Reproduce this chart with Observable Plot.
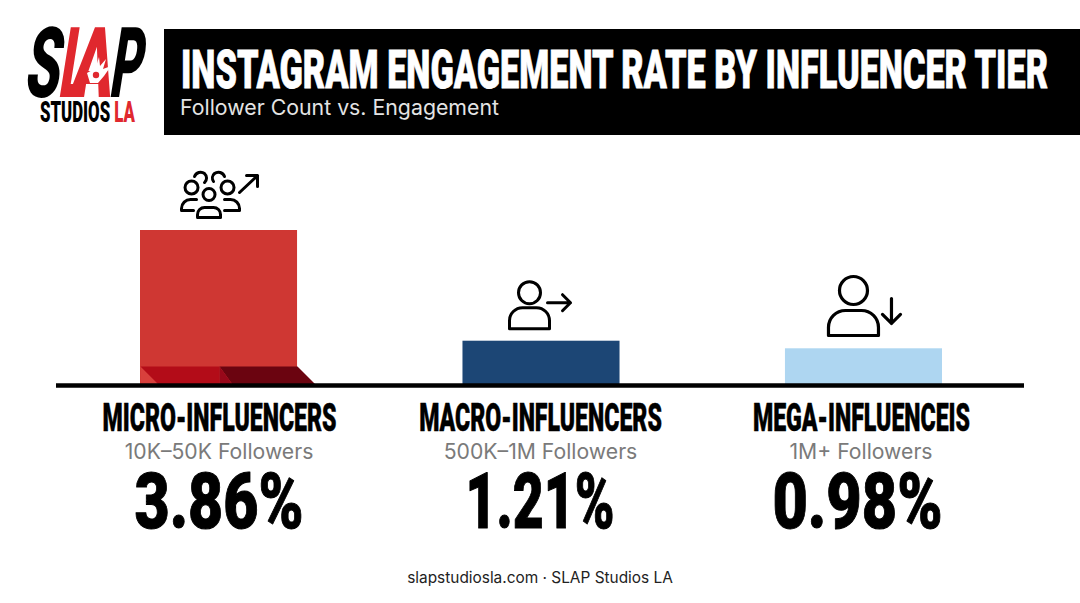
<!DOCTYPE html>
<html><head><meta charset="utf-8">
<style>
html,body{margin:0;padding:0;background:#fff;width:1080px;height:603px;overflow:hidden}
#top{position:absolute;left:0;top:0;width:1080px;height:140px}
#chart{position:absolute;left:0;top:140px}
#caption{position:absolute;left:0;top:568px;width:1080px;text-align:center;font:15.4px/20px Inter,sans-serif;color:#222}
</style>
<script src="https://cdn.jsdelivr.net/npm/d3@7"></script>
<script src="https://cdn.jsdelivr.net/npm/@observablehq/plot@0.6"></script>
</head><body>
<svg id="top" viewBox="0 0 1080 140" xmlns="http://www.w3.org/2000/svg">
  <rect x="164" y="29" width="916" height="106" fill="#000"/>
  <text x="181" y="88" font-family="Roboto" font-weight="900" font-size="53" fill="#fff" stroke="#fff" stroke-width="0.8" textLength="867" lengthAdjust="spacingAndGlyphs">INSTAGRAM ENGAGEMENT RATE BY INFLUENCER TIER</text>
  <text x="180" y="115" font-family="Inter" font-size="21" fill="#e4e4e4" textLength="319" lengthAdjust="spacingAndGlyphs">Follower Count vs. Engagement</text>
  <g font-family="Roboto" font-weight="900" font-size="98" transform="translate(23,97) skewX(-9)">
    <text x="0" y="0" fill="#000" textLength="35" lengthAdjust="spacingAndGlyphs">S</text>
    <text x="34" y="0" fill="#e0282e" textLength="28" lengthAdjust="spacingAndGlyphs">L</text>
    <text x="45" y="0" fill="#e0282e" textLength="42" lengthAdjust="spacingAndGlyphs">A</text>
    <text x="85" y="0" fill="#000" textLength="32" lengthAdjust="spacingAndGlyphs">P</text>
  </g>
  <path d="M90 83 L87 73 L94 69 L92 60 L96 67 L99 57 L100 66 L106 59 L103 69 L111 66 L104 76 L98 83 Z" fill="#fff"/>
  <circle cx="96" cy="75" r="3.2" fill="#e0282e"/>
  <text x="40" y="122" font-family="Roboto" font-weight="900" font-size="29" textLength="95" lengthAdjust="spacingAndGlyphs">STUDIOS <tspan fill="#e0282e">LA</tspan></text>
</svg>
<div id="chart"></div>
<div id="caption">slapstudiosla.com · SLAP Studios LA</div>
<script>
const tiers = ["MICRO-INFLUENCERS", "MACRO-INFLUENCERS", "MEGA-INFLUENCEIS"];
const followers = ["10K–50K Followers", "500K–1M Followers", "1M+ Followers"];
const rateLabels = ["3.86%", "1.21%", "0.98%"];
// Bar heights as drawn in the reference, read in the units of its tallest bar (3.86):
// the short bars are drawn a little below their printed rates.
const barValues = [3.86, 1.085, 0.895];
const barColors = ["#cf3733", "#1c4675", "#aed6f1"];

const svgUri = s => "data:image/svg+xml," + encodeURIComponent(s);
const iconStyle = 'fill="none" stroke="#000" stroke-width="3" stroke-linecap="round" stroke-linejoin="round"';
const iconGroup = svgUri(`<svg xmlns="http://www.w3.org/2000/svg" viewBox="178 168 84 54"><g ${iconStyle}>
<circle cx="208.500" cy="194" r="6"/><path d="M197 217v-3a7 7 0 0 1 7-7h9a7 7 0 0 1 7 7v3z"/>
<circle cx="191" cy="187" r="6.500"/><path d="M193 210h-12v-2a9 9 0 0 1 9-9h6"/>
<circle cx="227" cy="187" r="6.500"/><path d="M224 210h15v-2a9 9 0 0 0-9-9h-6"/>
<path d="M194 176a6.500 6.500 0 0 1 10-3 6 6 0 0 1 0 9"/><path d="M224 176a6.500 6.500 0 0 0-10-3 6 6 0 0 0-1 8"/>
<path d="M239 192l18-17M246 175h11v11"/></g></svg>`);
const iconMacro = svgUri(`<svg xmlns="http://www.w3.org/2000/svg" viewBox="505 277 70 55"><g ${iconStyle}>
<circle cx="529" cy="292" r="11"/><path d="M509 328v-8a13 13 0 0 1 13-13h14a13 13 0 0 1 13 13v8z"/>
<path d="M547 302h23M562 294l8 8-8 8"/></g></svg>`);
const iconMega = svgUri(`<svg xmlns="http://www.w3.org/2000/svg" viewBox="824 272 82 68"><g fill="none" stroke="#000" stroke-width="3.200" stroke-linecap="round" stroke-linejoin="round">
<circle cx="853" cy="290" r="14"/><path d="M828 335v-8a17 17 0 0 1 17-17h16a17 17 0 0 1 17 17v8z"/>
<path d="M891 298v25M882 314l9 9 9-9"/></g></svg>`);
const shards = svgUri(`<svg xmlns="http://www.w3.org/2000/svg" viewBox="135 362 185 24">
<path d="M140 366L158 384H140Z" fill="#d8403c"/><path d="M140 366H219V384H158Z" fill="#b30c18"/>
<path d="M219 366H297L315 384H232Z" fill="#6b0410"/><path d="M219 366L232 384H219Z" fill="#98081a"/></svg>`);

const rows = tiers.map((tier, i) => ({tier, follower: followers[i], bar: barValues[i], label: rateLabels[i], color: barColors[i]}));
const heavy = "Roboto";
const nameNudge = [0.5, -1, -2.5];
const subNudge = [0, -1, -3];
const rateNudge = [0, -1.5, -6.5];
const rateWidths = [169, 149, 170];

const plot = Plot.plot({
  width: 1080, height: 410, marginLeft: 56, marginRight: 56, marginTop: 0, marginBottom: 0,
  x: {type: "band", domain: tiers, range: [140, 942], paddingInner: 0.513, paddingOuter: 0, round: false, axis: null},
  y: {domain: [0, 3.86], range: [244, 90], axis: null},
  marks: [
    Plot.barY(rows, {x: "tier", y: "bar", fill: d => d.color}),
    Plot.image([rows[0]], {x: "tier", y: () => 0, src: () => shards, width: 185, height: 24, dx: 9, dy: -10}),
    Plot.ruleY([0], {stroke: "#000", strokeWidth: 4.4, dy: 1}),
    Plot.image([rows[0]], {x: "tier", y: "bar", src: () => iconGroup, width: 84, height: 54, dx: 1.5, dy: -35}),
    Plot.image([rows[1]], {x: "tier", y: "bar", src: () => iconMacro, width: 70, height: 55, dx: -1, dy: -36}),
    Plot.image([rows[2]], {x: "tier", y: "bar", src: () => iconMega, width: 82, height: 68, dx: 1.5, dy: -42.3}),
    rows.map((r, i) => [
      Plot.text([r], {x: "tier", y: () => 0, text: "tier", dx: nameNudge[i], dy: 34, fontFamily: heavy, fontWeight: 900, fontSize: 38, fill: "#000", stroke: "#000", strokeWidth: 0.5, className: "fit-name"}),
      Plot.text([r], {x: "tier", y: () => 0, text: "follower", dx: subNudge[i], dy: 68, fontFamily: "Inter", fontSize: 21.2, fill: "#7a7a7a", className: "fit-sub"}),
      Plot.text([r], {x: "tier", y: () => 0, text: "label", dx: rateNudge[i], dy: 119, fontFamily: heavy, fontWeight: 900, fontSize: 78, fill: "#000", stroke: "#000", strokeWidth: 1, className: "fit-rate"})
    ])
  ]
});
document.getElementById("chart").append(plot);
// Squeeze the heavy labels into the condensed look.
const setWidth = (t, w) => { t.setAttribute("textLength", w); t.setAttribute("lengthAdjust", "spacingAndGlyphs"); };
const nameLabels = [...plot.querySelectorAll(".fit-name text")];
const nameFactor = 234 / nameLabels[0].getComputedTextLength();
nameLabels.forEach(t => setWidth(t, t.getComputedTextLength() * nameFactor));
[...plot.querySelectorAll(".fit-rate text")].forEach((t, i) => setWidth(t, rateWidths[i]));
</script>
</body></html>
